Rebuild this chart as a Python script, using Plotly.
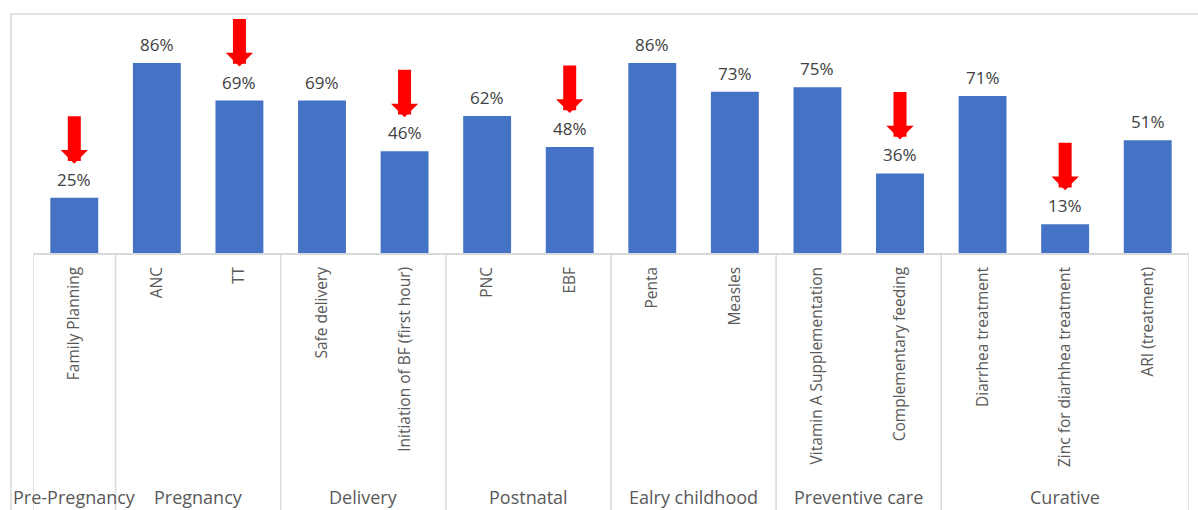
import plotly.graph_objects as go

categories = ["Family Planning", "ANC", "TT", "Safe delivery", "Initiation of BF (first hour)",
              "PNC", "EBF", "Penta", "Measles", "Vitamin A Supplementation",
              "Complementary feeding", "Diarrhea treatment", "Zinc for diarhhea treatment",
              "ARI (treatment)"]
values = [25, 86, 69, 69, 46, 62, 48, 86, 73, 75, 36, 71, 13, 51]
groups = ["Pre-Pregnancy", "Pregnancy", "Delivery", "Postnatal", "Ealry childhood",
          "Preventive care", "Curative"]
group_sizes = [1, 2, 2, 2, 2, 2, 3]
flagged = ["Family Planning", "TT", "Initiation of BF (first hour)", "EBF",
           "Complementary feeding", "Zinc for diarhhea treatment"]

BAR = "#4472C4"
GRID = "#d9d9d9"
TXT = "#595959"
FONT = "Open Sans"

xi = list(range(len(categories)))
fig = go.Figure(go.Bar(x=xi, y=values, marker=dict(color=BAR, line=dict(width=0)),
                       width=0.58, hoverinfo="skip"))

ann = []
# data labels
for i, v in enumerate(values):
    ann.append(dict(x=i, y=v, xref="x", yref="y", text=f"{v}%", showarrow=False,
                    yanchor="bottom", yshift=5, font=dict(family=FONT, size=17, color="#404040")))
# red arrows
for i, (c, v) in enumerate(zip(categories, values)):
    if c in flagged:
        ann.append(dict(x=i, y=v, xref="x", yref="y", text="", showarrow=True,
                        ax=0, ay=-83, axref="pixel", ayref="pixel", standoff=34,
                        arrowhead=1, arrowsize=0.35, arrowwidth=13, arrowcolor="#FF0000"))

shapes = []
# group separators and labels
b = -0.5
shapes.append(dict(type="line", xref="x", yref="paper", x0=b, x1=b, y0=0, y1=-1.25,
                   line=dict(color=GRID, width=1.5)))
for g, n in zip(groups, group_sizes):
    mid = b + n / 2
    ann.append(dict(x=mid, y=-1.105, xref="x", yref="paper", text=g, showarrow=False,
                    yanchor="middle", font=dict(family=FONT, size=18, color=TXT)))
    b += n
    shapes.append(dict(type="line", xref="x", yref="paper", x0=b, x1=b, y0=0, y1=-1.25,
                       line=dict(color=GRID, width=1.5)))
# outer chart border
shapes.append(dict(type="rect", xref="paper", yref="paper", x0=-0.019, x1=1.02,
                   y0=-1.3, y1=1.081, line=dict(color=GRID, width=1.5), layer="below"))

fig.update_layout(
    width=1198, height=510,
    margin=dict(l=33, r=9, t=32, b=257),
    plot_bgcolor="white", paper_bgcolor="white",
    showlegend=False, bargap=0.42,
    annotations=ann, shapes=shapes,
    xaxis=dict(tickmode="array", tickvals=xi, ticktext=categories, tickangle=-90,
               range=[-0.5, len(categories) - 0.5], showline=True, linecolor=GRID,
               linewidth=1.5, ticks="", ticklabelstandoff=6,
               tickfont=dict(family=FONT, size=15.5, color=TXT), showgrid=False),
    yaxis=dict(range=[0, 100], visible=False, showgrid=False, zeroline=False),
)

fig.write_html("out.html")
